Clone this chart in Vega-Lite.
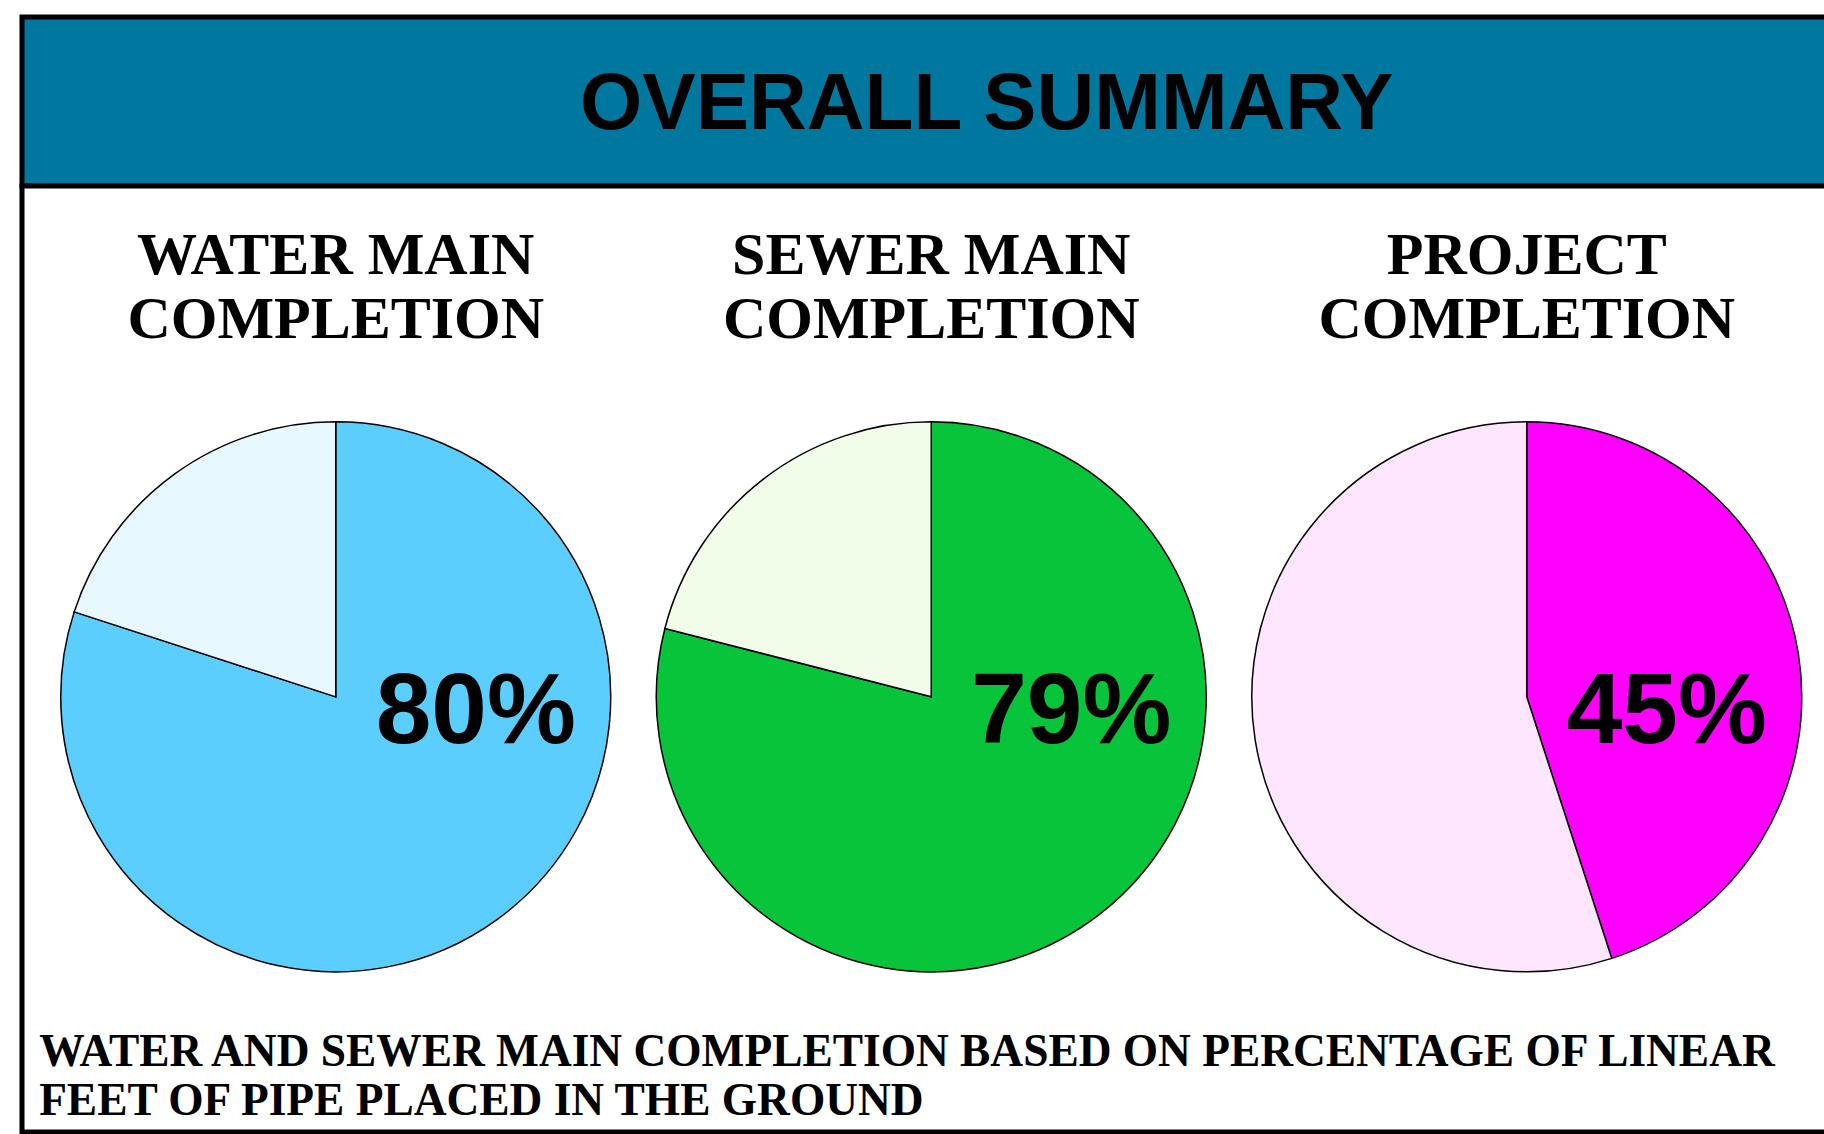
{
  "$schema": "https://vega.github.io/schema/vega-lite/v6.json",
  "background": "white",
  "padding": {"left": 19, "top": 14, "right": -3, "bottom": 1},
  "spacing": 0,
  "bounds": "flush",
  "config": {"view": {"stroke": "black", "strokeWidth": 5}},
  "datasets": {
    "completion": [
      {"category": "WATER MAIN\nCOMPLETION", "portion": "Water main placed", "status": "Complete", "share": 0.80},
      {"category": "WATER MAIN\nCOMPLETION", "portion": "Water main remaining", "status": "Remaining", "share": 0.20},
      {"category": "SEWER MAIN\nCOMPLETION", "portion": "Sewer main placed", "status": "Complete", "share": 0.79},
      {"category": "SEWER MAIN\nCOMPLETION", "portion": "Sewer main remaining", "status": "Remaining", "share": 0.21},
      {"category": "PROJECT\nCOMPLETION", "portion": "Project complete", "status": "Complete", "share": 0.45},
      {"category": "PROJECT\nCOMPLETION", "portion": "Project remaining", "status": "Remaining", "share": 0.55}
    ]
  },
  "vconcat": [
    {
      "width": 1805,
      "height": 169,
      "view": {"fill": "#00779F", "stroke": "black", "strokeWidth": 5},
      "data": {"values": [{"heading": "OVERALL SUMMARY"}]},
      "mark": {"type": "text", "font": "Liberation Sans", "fontWeight": "bold", "fontSize": 80, "align": "center", "baseline": "alphabetic", "color": "black"},
      "encoding": {
        "text": {"field": "heading", "type": "nominal"},
        "x": {"datum": "heading", "type": "nominal", "scale": {"type": "point", "align": 0.5345}, "axis": null},
        "y": {"datum": "heading", "type": "nominal", "scale": {"type": "point", "align": 0.662}, "axis": null}
      }
    },
    {
      "width": 1805,
      "height": 946,
      "view": {"fill": "white", "stroke": "black", "strokeWidth": 5},
      "layer": [
        {
          "data": {"name": "completion"},
          "transform": [
            {"stack": "share", "groupby": ["category"], "sort": [{"field": "status", "order": "ascending"}], "as": ["s0", "s1"]}
          ],
          "mark": {"type": "arc", "radius": 275, "stroke": "black", "strokeWidth": 1.5},
          "encoding": {
            "x": {"field": "category", "type": "nominal", "scale": {"type": "point", "domain": ["WATER MAIN\nCOMPLETION", "SEWER MAIN\nCOMPLETION", "PROJECT\nCOMPLETION"], "padding": 0.5155, "align": 0.511}, "axis": null},
            "y": {"datum": "pie", "type": "nominal", "scale": {"type": "point", "align": 0.540}, "axis": null},
            "theta": {"field": "s0", "type": "quantitative", "stack": null, "scale": {"domain": [0, 1], "range": [0, 6.283185307179586]}},
            "theta2": {"field": "s1"},
            "color": {"field": "portion", "type": "nominal", "legend": null,
              "scale": {"domain": ["Water main placed", "Water main remaining", "Sewer main placed", "Sewer main remaining", "Project complete", "Project remaining"],
                        "range": ["#5BCEFE", "#E7F8FE", "#07C43B", "#F1FDE8", "#FF00FF", "#FEE6FE"]}}
          }
        },
        {
          "data": {"name": "completion"},
          "transform": [{"filter": {"field": "status", "equal": "Complete"}}],
          "mark": {"type": "text", "font": "Liberation Sans", "fontWeight": "bold", "fontSize": 100, "align": "center", "baseline": "alphabetic", "dx": 140, "dy": 46, "color": "black"},
          "encoding": {
            "text": {"field": "share", "type": "quantitative", "format": ".0%"},
            "x": {"field": "category", "type": "nominal", "scale": {"type": "point", "domain": ["WATER MAIN\nCOMPLETION", "SEWER MAIN\nCOMPLETION", "PROJECT\nCOMPLETION"], "padding": 0.5155, "align": 0.511}, "axis": null},
            "y": {"datum": "pie", "type": "nominal", "scale": {"type": "point", "align": 0.540}, "axis": null}
          }
        },
        {
          "data": {"name": "completion"},
          "transform": [{"filter": {"field": "status", "equal": "Complete"}}],
          "mark": {"type": "text", "font": "Liberation Serif", "fontWeight": "bold", "fontSize": 60, "lineHeight": 64, "lineBreak": "\n", "align": "center", "baseline": "alphabetic", "color": "black"},
          "encoding": {
            "text": {"field": "category", "type": "nominal"},
            "x": {"field": "category", "type": "nominal", "scale": {"type": "point", "domain": ["WATER MAIN\nCOMPLETION", "SEWER MAIN\nCOMPLETION", "PROJECT\nCOMPLETION"], "padding": 0.5155, "align": 0.511}, "axis": null},
            "y": {"datum": "subtitle", "type": "nominal", "scale": {"type": "point", "align": 0.0928}, "axis": null}
          }
        },
        {
          "data": {"values": [{"note": "WATER AND SEWER MAIN COMPLETION BASED ON PERCENTAGE OF LINEAR\nFEET OF PIPE PLACED IN THE GROUND"}]},
          "mark": {"type": "text", "font": "Liberation Serif", "fontWeight": "bold", "fontSize": 45.4, "lineHeight": 49, "lineBreak": "\n", "align": "left", "baseline": "alphabetic", "color": "black"},
          "encoding": {
            "text": {"field": "note", "type": "nominal"},
            "x": {"datum": "note", "type": "nominal", "scale": {"type": "point", "align": 0.0095}, "axis": null},
            "y": {"datum": "note", "type": "nominal", "scale": {"type": "point", "align": 0.9302}, "axis": null}
          }
        }
      ],
      "resolve": {"scale": {"x": "independent", "y": "independent"}}
    }
  ]
}
